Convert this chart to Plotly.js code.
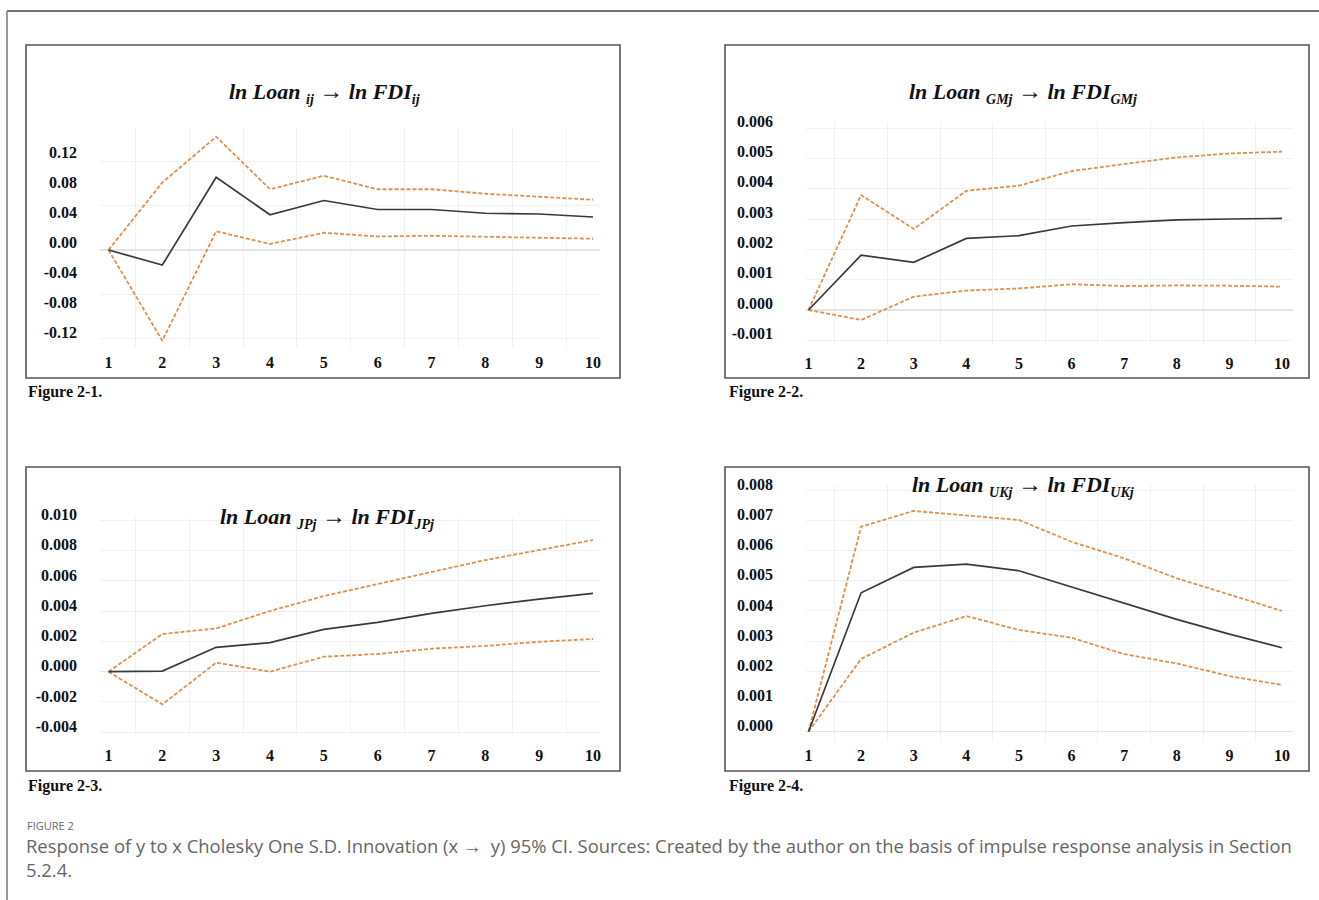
<!DOCTYPE html>
<html>
<head>
<meta charset="utf-8">
<script src="https://cdn.plot.ly/plotly-3.0.1.min.js"></script>
<style>html,body{margin:0;padding:0;background:#fff;}#chart{width:1319px;height:900px;}</style>
</head>
<body>
<div id="chart"></div>
<script>
// ---- data ----
const periods = [1, 2, 3, 4, 5, 6, 7, 8, 9, 10];

const mid1 = [0, -0.020, 0.097, 0.047, 0.066, 0.054, 0.054, 0.049, 0.048, 0.044];
const up1  = [0, 0.090, 0.151, 0.081, 0.099, 0.081, 0.081, 0.075, 0.071, 0.067];
const lo1  = [0, -0.121, 0.025, 0.008, 0.023, 0.018, 0.019, 0.018, 0.017, 0.015];

const mid2 = [0, 0.00181, 0.00157, 0.00236, 0.00245, 0.00277, 0.00288, 0.00297, 0.00300, 0.00302];
const up2  = [0, 0.00379, 0.00267, 0.00393, 0.00410, 0.00458, 0.00481, 0.00503, 0.00516, 0.00522];
const lo2  = [0, -0.00033, 0.00044, 0.00064, 0.00071, 0.00085, 0.00079, 0.00081, 0.00080, 0.00077];

const mid3 = [0, 0.00004, 0.00161, 0.00192, 0.00280, 0.00326, 0.00385, 0.00436, 0.00480, 0.00518];
const up3  = [0, 0.00249, 0.00286, 0.00401, 0.00500, 0.00579, 0.00661, 0.00738, 0.00804, 0.00870];
const lo3  = [0, -0.00216, 0.00060, 0.00000, 0.00099, 0.00117, 0.00152, 0.00170, 0.00198, 0.00216];

const mid4 = [0, 0.00460, 0.00544, 0.00555, 0.00533, 0.00480, 0.00427, 0.00372, 0.00323, 0.00278];
const up4  = [0, 0.00679, 0.00731, 0.00715, 0.00701, 0.00629, 0.00574, 0.00508, 0.00453, 0.00400];
const lo4  = [0, 0.00241, 0.00328, 0.00383, 0.00337, 0.00311, 0.00257, 0.00226, 0.00184, 0.00155];

const yTicks1  = [-0.12, -0.08, -0.04, 0, 0.04, 0.08, 0.12];
const yLabels1 = ["-0.12", "-0.08", "-0.04", "0.00", "0.04", "0.08", "0.12"];
const yTicks2  = [-0.001, 0, 0.001, 0.002, 0.003, 0.004, 0.005, 0.006];
const yLabels2 = ["-0.001", "0.000", "0.001", "0.002", "0.003", "0.004", "0.005", "0.006"];
const yTicks3  = [-0.004, -0.002, 0, 0.002, 0.004, 0.006, 0.008, 0.010];
const yLabels3 = ["-0.004", "-0.002", "0.000", "0.002", "0.004", "0.006", "0.008", "0.010"];
const yTicks4  = [0, 0.001, 0.002, 0.003, 0.004, 0.005, 0.006, 0.007, 0.008];
const yLabels4 = ["0.000", "0.001", "0.002", "0.003", "0.004", "0.005", "0.006", "0.007", "0.008"];
const xLabels  = ["1", "2", "3", "4", "5", "6", "7", "8", "9", "10"];

const titleSubs = ["ij", "GMj", "JPj", "UKj"];
const figLabels = ["Figure 2-1.", "Figure 2-2.", "Figure 2-3.", "Figure 2-4."];
const captionHead = "FIGURE 2";
const captionText = "Response of y to x Cholesky One S.D. Innovation (x \u2192  y) 95% CI. Sources: Created by the author on the basis of impulse response analysis in Section<br>5.2.4.";

function titleText(s) {
  const sub = "<sub><span style=\"font-size:14px\">" + s + "</span></sub>";
  return "<b><i>ln Loan " + sub + " <span style=\"font-size:24px\">\u2192</span> ln FDI" + sub + "</i></b>";
}

// ---- geometry (pixels) ----
const W = 1319, H = 900;
const SERIF = "Liberation Serif, Times New Roman, serif";
const panels = [
  {mid: mid1, up: up1, lo: lo1, tv: yTicks1, tt: yLabels1, px: [100, 600], py: [128, 348], x1: 108.5, x10: 593, zero: 250, scale: 750, shift: 8, minorY: 0.0588,
   ystand: 22, xstand: 3, box: [26, 45, 620, 378], title: [324, 93], fig: [26, 392]},
  {mid: mid2, up: up2, lo: lo2, tv: yTicks2, tt: yLabels2, px: [806, 1293], py: [122, 344], x1: 808.5, x10: 1282, zero: 310, scale: 30333, shift: 7, minorY: null,
   ystand: 32, xstand: 8, box: [725, 45, 1309, 378], title: [1023, 93], fig: [727, 392]},
  {mid: mid3, up: up3, lo: lo3, tv: yTicks3, tt: yLabels3, px: [100, 600], py: [518, 735], x1: 108.5, x10: 593, zero: 671.7, scale: 15133, shift: 6, minorY: null,
   ystand: 22, xstand: 9, box: [26, 467, 620, 771], title: [327, 517], fig: [26, 786]},
  {mid: mid4, up: up4, lo: lo4, tv: yTicks4, tt: yLabels4, px: [806, 1293], py: [485, 742], x1: 808.5, x10: 1282, zero: 731.7, scale: 30200, shift: 6, minorY: null,
   ystand: 32, xstand: 2, box: [725, 467, 1309, 771], title: [1023, 485], fig: [727, 786]}
];

const traces = [];
const layout = {
  width: W, height: H,
  margin: {l: 0, r: 0, t: 0, b: 0, pad: 0},
  paper_bgcolor: "#ffffff", plot_bgcolor: "rgba(0,0,0,0)",
  showlegend: false,
  shapes: [], annotations: []
};

panels.forEach((p, i) => {
  const n = i + 1;
  const xa = n === 1 ? "x" : "x" + n;
  const ya = n === 1 ? "y" : "y" + n;
  const unit = (p.x10 - p.x1) / 9;
  const xr = [1 + (p.px[0] - p.x1) / unit, 10 + (p.px[1] - p.x10) / unit];
  const yr = [(p.zero - p.py[1]) / p.scale, (p.zero - p.py[0]) / p.scale];

  traces.push({x: periods, y: p.up, xaxis: xa, yaxis: ya, type: "scatter", mode: "lines",
    line: {color: "#E0904F", width: 1.8, dash: "4px,2px"}, hoverinfo: "skip"});
  traces.push({x: periods, y: p.lo, xaxis: xa, yaxis: ya, type: "scatter", mode: "lines",
    line: {color: "#E0904F", width: 1.8, dash: "4px,2px"}, hoverinfo: "skip"});
  traces.push({x: periods, y: p.mid, xaxis: xa, yaxis: ya, type: "scatter", mode: "lines",
    line: {color: "#3a3a3a", width: 1.7}, hoverinfo: "skip"});

  const xKey = n === 1 ? "xaxis" : "xaxis" + n;
  const yKey = n === 1 ? "yaxis" : "yaxis" + n;
  layout[xKey] = {
    domain: [p.px[0] / W, p.px[1] / W], anchor: ya, range: xr, fixedrange: true,
    tickmode: "array", tickvals: periods, ticktext: xLabels, ticks: "",
    showgrid: false, zeroline: false, showline: false,
    minor: {tick0: 0.5, dtick: 1, showgrid: true, gridcolor: "#f1f1f1", gridwidth: 1, ticks: ""},
    tickfont: {family: SERIF, size: 16, color: "#111", weight: "bold"},
    ticklabelstandoff: p.xstand
  };
  const ya_obj = {
    domain: [1 - p.py[1] / H, 1 - p.py[0] / H], anchor: xa, range: yr, fixedrange: true,
    tickmode: "array", tickvals: p.tv, ticktext: p.tt, ticks: "",
    showgrid: p.minorY === null, gridcolor: "#f1f1f1", gridwidth: 1,
    zeroline: true, zerolinecolor: "#e4e4e4", zerolinewidth: 1.2, showline: false,
    tickfont: {family: SERIF, size: 16, color: "#111", weight: "bold"},
    ticklabelshift: -p.shift, ticklabelstandoff: p.ystand
  };
  if (p.minorY !== null) {
    ya_obj.minor = {tick0: 0, dtick: p.minorY, showgrid: true, gridcolor: "#f1f1f1", gridwidth: 1, ticks: ""};
  }
  layout[yKey] = ya_obj;

  layout.shapes.push({type: "rect", xref: "paper", yref: "paper",
    x0: p.box[0] / W, x1: p.box[2] / W, y0: 1 - p.box[3] / H, y1: 1 - p.box[1] / H,
    line: {color: "#555", width: 1.6}, fillcolor: "rgba(0,0,0,0)", layer: "above"});

  layout.annotations.push({xref: "paper", yref: "paper", x: p.title[0] / W, y: 1 - p.title[1] / H,
    xanchor: "center", yanchor: "middle", showarrow: false, text: titleText(titleSubs[i]),
    font: {family: SERIF, size: 22, color: "#111"}});
  layout.annotations.push({xref: "paper", yref: "paper", x: p.fig[0] / W, y: 1 - p.fig[1] / H,
    xanchor: "left", yanchor: "middle", showarrow: false, text: "<b>" + figLabels[i] + "</b>",
    font: {family: SERIF, size: 16, color: "#111"}});
});

// outer frame (top and left)
layout.shapes.push({type: "line", xref: "paper", yref: "paper", x0: 7 / W, x1: 1, y0: 1 - 11 / H, y1: 1 - 11 / H,
  line: {color: "#444", width: 1.5}});
layout.shapes.push({type: "line", xref: "paper", yref: "paper", x0: 7 / W, x1: 7 / W, y0: 0, y1: 1 - 11 / H,
  line: {color: "#777", width: 1.5}});

layout.annotations.push({xref: "paper", yref: "paper", x: 25 / W, y: 1 - 825 / H, xanchor: "left", yanchor: "middle",
  showarrow: false, text: captionHead, font: {family: "Open Sans, sans-serif", size: 11, color: "#6a6a6a"}});
layout.annotations.push({xref: "paper", yref: "paper", x: 24 / W, y: 1 - 857 / H, xanchor: "left", yanchor: "middle",
  align: "left", showarrow: false, text: captionText, font: {family: "Open Sans, sans-serif", size: 18.4, color: "#666"}});

Plotly.newPlot("chart", traces, layout, {staticPlot: true, displayModeBar: false});
</script>
</body>
</html>
